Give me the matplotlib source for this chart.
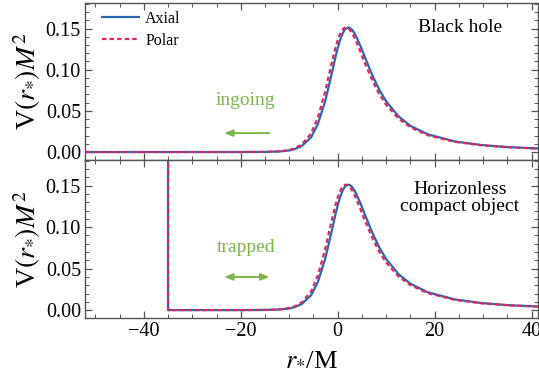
import numpy as np
import matplotlib

matplotlib.use("Agg")
import matplotlib.pyplot as plt
from matplotlib.ticker import MultipleLocator

plt.rcParams["font.family"] = ["Liberation Serif", "DejaVu Serif"]
plt.rcParams["mathtext.fontset"] = "stix"

# l = 2 potentials vs tortoise coordinate
r_star = [-52.0, -20.0, -15.0, -12.0, -10.0, -8.8, -7.4, -5.5, -4.1, -2.6,
          -1.7, -1.0, -0.47, -0.01, 0.40, 0.77, 1.10, 1.41, 1.70, 2.19,
          2.49, 2.95, 3.39, 3.80, 4.75, 5.61, 7.19, 8.63, 10.0, 12.57,
          15.02, 18.54, 24.19, 29.69, 35.08, 41.47, 45.7]
v_axial = [0.0, 0.00001, 0.00015, 0.0007, 0.0019, 0.0037, 0.0074, 0.0178, 0.0339, 0.0615,
           0.0836, 0.1013, 0.1152, 0.1261, 0.1344, 0.1406, 0.1451, 0.1482, 0.1501, 0.1513,
           0.1509, 0.1486, 0.1450, 0.1406, 0.1280, 0.1152, 0.0926, 0.0750, 0.0615, 0.0432,
           0.0318, 0.0216, 0.0128, 0.0085, 0.0060, 0.0043, 0.0035]
v_polar = [0.0, 0.00001, 0.0002, 0.0009, 0.0024, 0.0048, 0.0094, 0.0224, 0.0418, 0.0731,
           0.0965, 0.1138, 0.1266, 0.1358, 0.1424, 0.1467, 0.1495, 0.1509, 0.1513, 0.1502,
           0.1485, 0.1445, 0.1397, 0.1344, 0.1208, 0.1079, 0.0862, 0.0697, 0.0573, 0.0405,
           0.0300, 0.0205, 0.0123, 0.0082, 0.0058, 0.0041, 0.0034]

wall_pos = -35.0      # reflecting surface of the horizonless object
wall_top = 0.25

c_axial = "#2b67ad"
c_polar = "#e2245c"
c_green = "#7ab648"
c_frame = "#555555"

fig = plt.figure(figsize=(5.39, 3.81), dpi=100)
ax1 = fig.add_axes([0.158, 0.580, 0.840, 0.412])
ax2 = fig.add_axes([0.158, 0.165, 0.840, 0.415], sharex=ax1)

rs = np.asarray(r_star)
va = np.asarray(v_axial)
vp = np.asarray(v_polar)

# ---- top: black hole ------------------------------------------------------
ax1.plot(rs, va, color=c_axial, lw=1.6, label="Axial")
ax1.plot(rs, vp, color=c_polar, lw=1.6, ls=(0, (2.0, 1.4)), label="Polar")
ax1.text(25.2, 0.151, "Black hole", fontsize=14, ha="center", va="center")
ax1.text(-19.0, 0.063, "ingoing", fontsize=14, color=c_green, ha="center", va="center")
ax1.annotate("", xy=(-24.0, 0.023), xytext=(-13.5, 0.023),
             arrowprops=dict(arrowstyle="-|>,head_length=0.5,head_width=0.2",
                             color=c_green, lw=1.4))
ax1.legend(loc="upper left", frameon=False, fontsize=11.5, handlelength=2.3,
           handletextpad=0.4, borderaxespad=0.1, labelspacing=0.35,
           bbox_to_anchor=(0.02, 1.0))

# ---- bottom: horizonless compact object -----------------------------------
keep = rs > wall_pos
xb = np.concatenate([[wall_pos, wall_pos], rs[keep]])
ya = np.concatenate([[wall_top, 0.0], va[keep]])
yp = np.concatenate([[wall_top, 0.0], vp[keep]])
ax2.plot(xb, ya, color=c_axial, lw=1.6)
ax2.plot(xb, yp, color=c_polar, lw=1.6, ls=(0, (2.0, 1.4)))
ax2.text(25.2, 0.135, "Horizonless\ncompact object", fontsize=14,
         ha="center", va="center", linespacing=1.05)
ax2.text(-19.0, 0.076, "trapped", fontsize=14, color=c_green, ha="center", va="center")
ax2.annotate("", xy=(-24.0, 0.040), xytext=(-13.5, 0.040),
             arrowprops=dict(arrowstyle="<|-|>,head_length=0.5,head_width=0.2",
                             color=c_green, lw=1.4))

for ax in (ax1, ax2):
    ax.set_xlim(-52.1, 41.3)
    ax.set_ylim(-0.0097, 0.181)
    ax.xaxis.set_major_locator(MultipleLocator(20))
    ax.xaxis.set_minor_locator(MultipleLocator(5))
    ax.yaxis.set_major_locator(MultipleLocator(0.05))
    ax.yaxis.set_minor_locator(MultipleLocator(0.01))
    ax.yaxis.set_major_formatter(plt.FuncFormatter(lambda v, p: f"{v:.2f}"))
    ax.tick_params(which="both", direction="in", top=True, right=True,
                   color=c_frame, labelsize=14.5, pad=3)
    ax.tick_params(which="major", length=5, width=0.9)
    ax.tick_params(which="minor", length=2.8, width=0.7)
    for sp in ax.spines.values():
        sp.set_color(c_frame)
        sp.set_linewidth(1.0)
    ax.set_ylabel(r"V$(r_{*})M^{2}$", fontsize=20, labelpad=2)

ax1.tick_params(labelbottom=False)
ax2.set_xlabel(r"$r_{*}$/M", fontsize=19, labelpad=5)

fig.savefig("out.png", dpi=100)
